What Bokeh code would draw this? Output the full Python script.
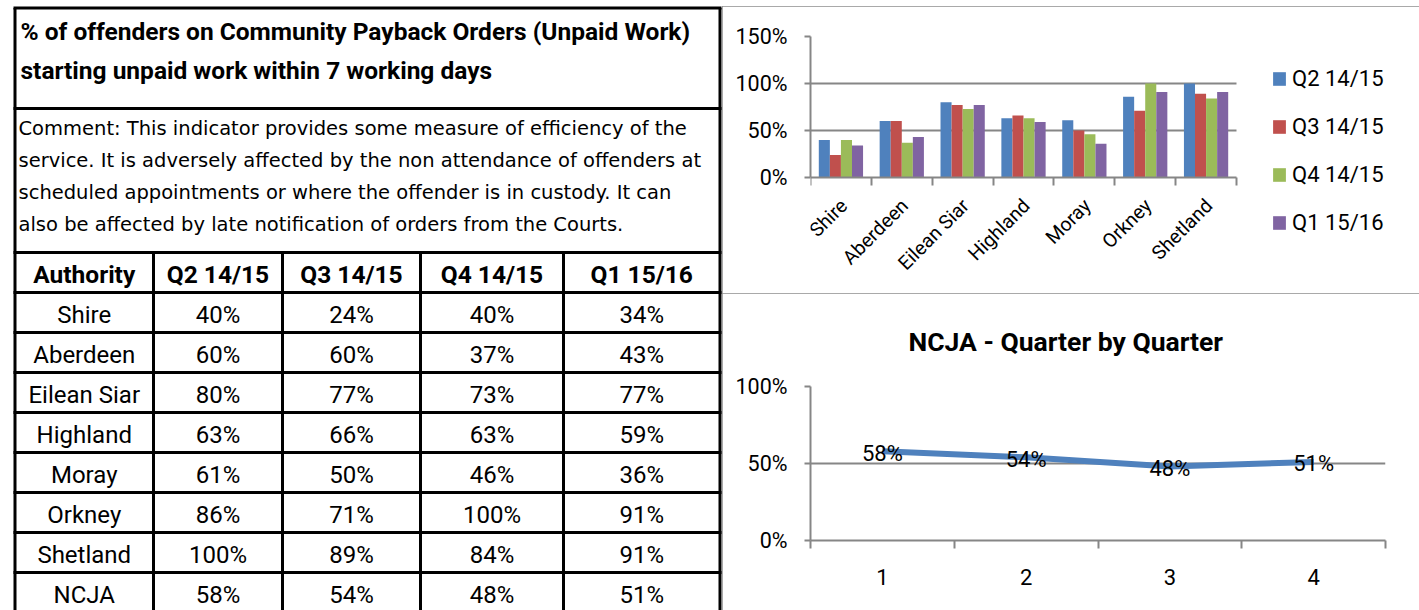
from math import pi
from bokeh.plotting import figure
from bokeh.layouts import row, column
from bokeh.models import (Range1d, FixedTicker, NumeralTickFormatter, Legend, LegendItem,
                          ColumnDataSource, Grid)
from bokeh.core.properties import value
from bokeh.embed import file_html
from bokeh.resources import INLINE

# ---------------- data ----------------
title_lines = ["% of offenders on Community Payback Orders (Unpaid Work)",
               "starting unpaid work within 7 working days"]
comment_lines = ["Comment: This indicator provides some measure of efficiency of the",
                 "service. It is adversely affected by the non attendance of offenders at",
                 "scheduled appointments or where the offender is in custody. It can",
                 "also be affected by late notification of orders from the Courts."]
header = ["Authority", "Q2 14/15", "Q3 14/15", "Q4 14/15", "Q1 15/16"]
authorities = ["Shire", "Aberdeen", "Eilean Siar", "Highland", "Moray", "Orkney", "Shetland"]
quarters = ["Q2 14/15", "Q3 14/15", "Q4 14/15", "Q1 15/16"]
q2_1415 = [40, 60, 80, 63, 61, 86, 100]
q3_1415 = [24, 60, 77, 66, 50, 71, 89]
q4_1415 = [40, 37, 73, 63, 46, 100, 84]
q1_1516 = [34, 43, 77, 59, 36, 91, 91]
ncja_label = "NCJA"
ncja = [58, 54, 48, 51]
ncja_quarter_no = [1, 2, 3, 4]
line_title = "NCJA - Quarter by Quarter"

series = [q2_1415, q3_1415, q4_1415, q1_1516]
COLORS = ["#4F81BD", "#C0504D", "#9BBB59", "#8064A2"]
GRAY = "#868686"
FONT = "Roboto"
PANEL_STYLE = {"outline": "2px solid #8c8c8c", "outline-offset": "-2px"}

# ---------------- left: table ----------------
WL, HL = 722, 610
t = figure(width=WL, height=HL, x_range=Range1d(0, WL), y_range=Range1d(HL, 0),
           output_backend="svg", toolbar_location=None, min_border=0,
           x_axis_type=None, y_axis_type=None)
t.outline_line_color = None
t.background_fill_color = "white"
t.border_fill_color = "white"

x_edges = [14.5, 153, 282, 420, 563, 719.5]
y_top, y_title_bottom, y_comment_bottom, header_h, row_h = 7.5, 108, 252, 40, 40
n_rows = len(authorities) + 1
h_lines = [y_top, y_title_bottom, y_comment_bottom, y_comment_bottom + header_h] + \
          [y_comment_bottom + header_h + row_h * (i + 1) for i in range(n_rows - 1)]
seg = dict(x0=[], y0=[], x1=[], y1=[])
for y in h_lines:
    seg["x0"].append(x_edges[0] - 1.5); seg["x1"].append(x_edges[-1] + 1.5)
    seg["y0"].append(y); seg["y1"].append(y)
for i, x in enumerate(x_edges):
    y0 = y_top if i in (0, len(x_edges) - 1) else y_comment_bottom
    seg["x0"].append(x); seg["x1"].append(x)
    seg["y0"].append(y0); seg["y1"].append(HL + 5)
t.segment(x0="x0", y0="y0", x1="x1", y1="y1", source=ColumnDataSource(seg),
          line_color="black", line_width=3)

t.text(x=[20] * len(title_lines), y=[31, 70], text=title_lines,
       text_font=value(FONT), text_font_style="bold", text_font_size="24.5px",
       text_baseline="middle", text_align="left", text_color="black")
t.text(x=[18] * len(comment_lines), y=[128 + 32 * i for i in range(len(comment_lines))],
       text=comment_lines, text_font=value("DejaVu Sans"), text_font_size="19.5px",
       text_baseline="middle", text_align="left", text_color="black")

col_centers = [(x_edges[i] + x_edges[i + 1]) / 2 for i in range(len(x_edges) - 1)]
t.text(x=col_centers, y=[y_comment_bottom + 22] * len(header), text=header,
       text_font=value(FONT), text_font_style="bold", text_font_size="24.5px",
       text_baseline="middle", text_align="center", text_color="black")

cx, cy, ct = [], [], []
rows_names = authorities + [ncja_label]
for r, name in enumerate(rows_names):
    vals = [s[r] for s in series] if r < len(authorities) else ncja
    yc = y_comment_bottom + header_h + row_h * r + 22
    for c, txt in enumerate([name] + [f"{v}%" for v in vals]):
        cx.append(col_centers[c]); cy.append(yc); ct.append(txt)
t.text(x=cx, y=cy, text=ct, text_font=value(FONT), text_font_size="24px",
       text_baseline="middle", text_align="center", text_color="black")


def style_axis(ax, size="21.5px"):
    ax.axis_line_color = GRAY
    ax.axis_line_width = 2
    ax.major_tick_line_color = GRAY
    ax.major_tick_line_width = 2
    ax.major_tick_in = 0
    ax.major_tick_out = 6
    ax.minor_tick_line_color = None
    ax.major_label_text_font = FONT
    ax.major_label_text_font_size = size
    ax.major_label_text_color = "black"


RW = 697                 # right-hand panels width
FL, FR = 88, 34          # frame borders shared by both charts

# ---------------- top right: bar chart ----------------
BH, B_MARGIN_TOP = 287, 6
B_TOP, B_BOTTOM = 30, 18                       # borders -> frame 36..275 on the page
b_frame_h = BH - B_TOP - B_BOTTOM
zero_px_from_top = 177 - 36                    # 0% line below frame top (px)
px_per_unit = zero_px_from_top / 1.5
cat_px = (1236 - 810) / len(authorities)
b_xr = Range1d(-0.5, -0.5 + (RW - FL - FR) / cat_px)
b_yr = Range1d(-(b_frame_h - zero_px_from_top) / px_per_unit, 1.5)

b = figure(width=RW, height=BH, x_range=b_xr, y_range=b_yr, output_backend="svg",
           toolbar_location=None, min_border_left=FL, min_border_right=FR,
           min_border_top=B_TOP, min_border_bottom=B_BOTTOM, margin=(B_MARGIN_TOP, 0, 0, 0),
           styles=PANEL_STYLE)
b.outline_line_color = None
b.xgrid.visible = False
cat_bounds = (-0.5, len(authorities) - 0.5)
if "cross_bounds" in Grid.properties():
    b.ygrid.ticker = FixedTicker(ticks=[0.5, 1.0, 1.5])
    b.ygrid.grid_line_color = GRAY
    b.ygrid.grid_line_width = 2
    b.ygrid.cross_bounds = cat_bounds
else:
    b.ygrid.visible = False
    gl = [0.5, 1.0, 1.5]
    b.segment(x0=[cat_bounds[0]] * len(gl), x1=[cat_bounds[1]] * len(gl), y0=gl, y1=gl,
              line_color=GRAY, line_width=2, level="underlay")

bw = 1 / 5.5
renderers = []
for j, (s, col) in enumerate(zip(series, COLORS)):
    xs = [i + (j - 1.5) * bw for i in range(len(authorities))]
    r = b.vbar(x=xs, top=[v / 100 for v in s], width=bw, bottom=0,
               fill_color=col, line_color=None)
    renderers.append(r)

style_axis(b.yaxis[0])
b.yaxis.ticker = FixedTicker(ticks=[0, 0.5, 1.0, 1.5])
b.yaxis.formatter = NumeralTickFormatter(format="0%")
b.yaxis.major_label_standoff = 17
b.yaxis.bounds = (0, 1.5)

bx = b.xaxis[0]
style_axis(bx)
bx.fixed_location = 0
bx.bounds = cat_bounds
bx.ticker = FixedTicker(ticks=[], minor_ticks=[i - 0.5 for i in range(len(authorities) + 1)])
bx.major_tick_out = 0
bx.major_label_standoff = 0
bx.minor_tick_line_color = GRAY
bx.minor_tick_line_width = 2
bx.minor_tick_in = 0
bx.minor_tick_out = 8

b.text(x=list(range(len(authorities))), y=[0] * len(authorities), text=authorities,
       angle=pi / 4, text_align="right", text_baseline="middle",
       text_font=value(FONT), text_font_size="19.5px", text_color="black",
       x_offset=3, y_offset=25)

legend = Legend(items=[LegendItem(label=q, renderers=[r]) for q, r in zip(quarters, renderers)],
                location=(461, b_frame_h - (235 - 36)))
legend.padding = 0
legend.margin = 0
legend.border_line_alpha = 0
legend.background_fill_alpha = 0
legend.label_text_font = FONT
legend.label_text_font_size = "22px"
legend.label_text_color = "black"
legend.label_height = 26
legend.glyph_height = 17
legend.glyph_width = 16
legend.spacing = 22
legend.label_standoff = 5
b.add_layout(legend)

# ---------------- bottom right: line chart ----------------
LH = 317
l = figure(width=RW, height=LH, x_range=Range1d(0.5, len(ncja) + 0.5), y_range=Range1d(0, 1),
           output_backend="svg", toolbar_location=None,
           min_border_left=FL, min_border_right=FR, min_border_top=93, min_border_bottom=70,
           styles=PANEL_STYLE)
l.outline_line_color = None
l.xgrid.visible = False
l.ygrid.ticker = FixedTicker(ticks=[0.5, 1.0])
l.ygrid.grid_line_color = GRAY
l.ygrid.grid_line_width = 2

l.title.text = line_title
l.title.text_font = FONT
l.title.text_font_style = "bold"
l.title.text_font_size = "26.5px"
l.title.text_color = "black"
l.title.align = "left"
l.title.offset = 98
l.title.vertical_align = "top"
l.title.standoff = 56

yv = [v / 100 for v in ncja]
l.line(x=ncja_quarter_no, y=yv, line_color=COLORS[0], line_width=6)
l.text(x=ncja_quarter_no, y=yv, text=[f"{v}%" for v in ncja], text_font=value(FONT),
       text_font_size="22px", text_align="center", text_baseline="middle",
       text_color="black", y_offset=2)

style_axis(l.yaxis[0])
l.yaxis.ticker = FixedTicker(ticks=[0, 0.5, 1.0])
l.yaxis.formatter = NumeralTickFormatter(format="0%")
l.yaxis.major_label_standoff = 17

lx = l.xaxis[0]
style_axis(lx, size="22px")
lx.ticker = FixedTicker(ticks=ncja_quarter_no, minor_ticks=[i + 0.5 for i in range(len(ncja) + 1)])
lx.major_tick_line_color = None
lx.major_tick_out = 0
lx.major_label_standoff = 20
lx.minor_tick_line_color = GRAY
lx.minor_tick_line_width = 2
lx.minor_tick_in = 0
lx.minor_tick_out = 8

layout = row(t, column(b, l, spacing=0), spacing=0)
open("out.html", "w").write(file_html(layout, INLINE))
